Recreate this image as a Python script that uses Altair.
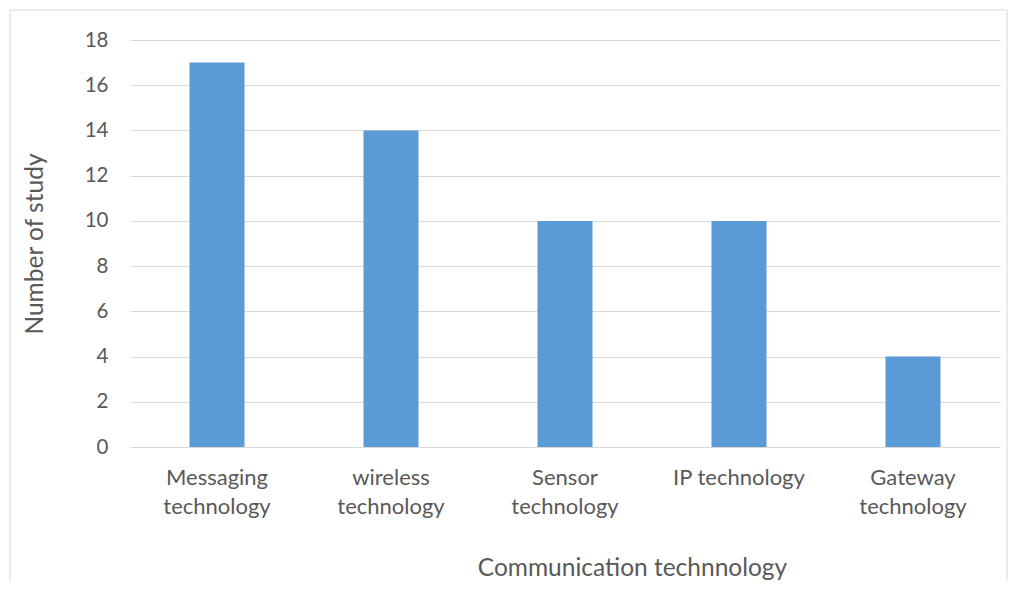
import altair as alt
import pandas as pd

categories = ["Messaging technology", "wireless technology", "Sensor technology",
              "IP technology", "Gateway technology"]
values = [17, 14, 10, 10, 4]

df = pd.DataFrame({"tech": categories, "count": values})

FONT = "Lato"
GRAY = "#595959"

bars = alt.Chart(df).mark_bar(color="#5B9BD5", size=55).encode(
    x=alt.X("tech:N", sort=categories,
            scale=alt.Scale(paddingInner=0, paddingOuter=0),
            axis=alt.Axis(
                title="Communication technnology",
                labelAngle=0,
                labelExpr="datum.label == 'IP technology' ? datum.label : split(datum.label, ' ')",
                labelLineHeight=29,
                labelPadding=20,
                labelFontSize=22,
                labelColor=GRAY,
                labelFont=FONT,
                ticks=False,
                domain=False,
                grid=False,
                titleFont=FONT,
                titleFontSize=24.5,
                titleFontWeight="normal",
                titleColor=GRAY,
                titleX=502,
                titleY=121,
                titleBaseline="middle",
                titleAnchor="start",
                titleAlign="center",
            )),
    y=alt.Y("count:Q",
            scale=alt.Scale(domain=[0, 18], nice=False),
            axis=alt.Axis(
                title="Number of study",
                values=list(range(0, 19, 2)),
                labelFontSize=20.5,
                labelColor=GRAY,
                labelFont=FONT,
                labelPadding=22,
                ticks=False,
                tickSize=0,
                domain=False,
                grid=True,
                gridColor="#D9D9D9",
                gridWidth=1,
                titleFont=FONT,
                titleFontSize=24.5,
                titleFontWeight="normal",
                titleColor=GRAY,
                titleX=-95,
                titleY=203.5,
                titleAngle=270,
                titleBaseline="middle",
                titleAlign="center",
                titleAnchor="start",
            )),
)

border = alt.Chart(pd.DataFrame({"a": [0]})).mark_rect(
    fill=None, stroke="#D9D9D9", strokeWidth=1
).encode(
    x=alt.value(-120), x2=alt.value(877),
    y=alt.value(-30), y2=alt.value(600),
)

chart = alt.layer(border, bars).properties(
    width=870, height=407,
    background="white",
    autosize=alt.AutoSizeParams(type="none"),
    padding={"left": 122, "top": 32, "right": 8, "bottom": 134},
).configure_view(stroke=None, strokeWidth=0)

chart.save("out.html", embed_options={"renderer": "svg", "actions": False})
